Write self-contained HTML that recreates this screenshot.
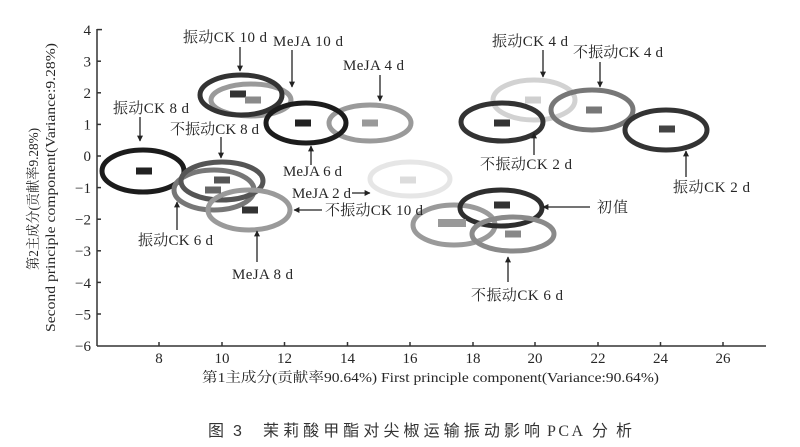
<!DOCTYPE html>
<html><head><meta charset="utf-8"><style>
html,body{margin:0;padding:0;background:#fff;}
svg{display:block;}
text{font-family:"Liberation Serif","Noto Serif CJK SC",serif;fill:#262626;}
.cap{font-family:"Liberation Sans","Noto Sans CJK SC",sans-serif;fill:#333;}
</style></head><body>
<svg width="800" height="447" viewBox="0 0 800 447" xmlns="http://www.w3.org/2000/svg">
<defs>
<marker id="ah" viewBox="0 0 10 10" refX="9" refY="5" markerWidth="6" markerHeight="7" orient="auto" markerUnits="userSpaceOnUse">
<path d="M0,0 L10,5 L0,10 z" fill="#222"/>
</marker>
</defs>
<rect width="800" height="447" fill="#fff"/>

<!-- axes -->
<g stroke="#333" stroke-width="1.5" fill="none">
<line x1="97" y1="29" x2="97" y2="346"/>
<line x1="97" y1="346" x2="766" y2="346"/>
<line x1="97" y1="29.6" x2="102" y2="29.6"/>
<line x1="97" y1="61.2" x2="101" y2="61.2"/>
<line x1="97" y1="92.8" x2="101" y2="92.8"/>
<line x1="97" y1="124.4" x2="101" y2="124.4"/>
<line x1="97" y1="156" x2="101" y2="156"/>
<line x1="97" y1="187.6" x2="101" y2="187.6"/>
<line x1="97" y1="219.2" x2="101" y2="219.2"/>
<line x1="97" y1="250.8" x2="101" y2="250.8"/>
<line x1="97" y1="282.4" x2="101" y2="282.4"/>
<line x1="97" y1="314" x2="101" y2="314"/>
<line x1="159" y1="346" x2="159" y2="342"/>
<line x1="222" y1="346" x2="222" y2="342"/>
<line x1="284.5" y1="346" x2="284.5" y2="342"/>
<line x1="347.5" y1="346" x2="347.5" y2="342"/>
<line x1="410" y1="346" x2="410" y2="342"/>
<line x1="473" y1="346" x2="473" y2="342"/>
<line x1="535" y1="346" x2="535" y2="342"/>
<line x1="598" y1="346" x2="598" y2="342"/>
<line x1="660.5" y1="346" x2="660.5" y2="342"/>
<line x1="723" y1="346" x2="723" y2="342"/>
</g>

<g font-size="15" text-anchor="end">
<text x="91" y="35">4</text>
<text x="91" y="66.5">3</text>
<text x="91" y="98">2</text>
<text x="91" y="129.5">1</text>
<text x="91" y="161">0</text>
<text x="91" y="193">−1</text>
<text x="91" y="224.5">−2</text>
<text x="91" y="256">−3</text>
<text x="91" y="288">−4</text>
<text x="91" y="319.5">−5</text>
<text x="91" y="351">−6</text>
</g>
<g font-size="15" text-anchor="middle">
<text x="159" y="363">8</text>
<text x="222" y="363">10</text>
<text x="284.5" y="363">12</text>
<text x="347.5" y="363">14</text>
<text x="410" y="363">16</text>
<text x="473" y="363">18</text>
<text x="535" y="363">20</text>
<text x="598" y="363">22</text>
<text x="660.5" y="363">24</text>
<text x="723" y="363">26</text>
</g>

<text x="202" y="382" font-size="14" textLength="457" lengthAdjust="spacingAndGlyphs">第1主成分(贡献率90.64%) First principle component(Variance:90.64%)</text>
<text transform="translate(38,270) rotate(-90)" font-size="14" textLength="142" lengthAdjust="spacingAndGlyphs">第2主成分(贡献率9.28%)</text>
<text transform="translate(55,332) rotate(-90)" font-size="14" textLength="289" lengthAdjust="spacingAndGlyphs">Second principle component(Variance:9.28%)</text>

<g fill="none" stroke-width="5">
<ellipse cx="410" cy="179" rx="40" ry="17" stroke="#e6e6e6"/>
<ellipse cx="534" cy="100" rx="41" ry="20" stroke="#d2d2d2"/>
<ellipse cx="251" cy="100" rx="40" ry="16" stroke="#9a9a9a"/>
<ellipse cx="241" cy="95" rx="41" ry="20" stroke="#333"/>
<ellipse cx="370" cy="123" rx="41" ry="18" stroke="#9a9a9a"/>
<ellipse cx="306" cy="123" rx="40" ry="20" stroke="#1c1c1c"/>
<ellipse cx="143" cy="171" rx="41" ry="21" stroke="#1c1c1c"/>
<ellipse cx="214" cy="190" rx="40" ry="20" stroke="#777"/>
<ellipse cx="222" cy="181" rx="41" ry="19" stroke="#555"/>
<ellipse cx="249" cy="210" rx="41" ry="20" stroke="#9a9a9a"/>
<ellipse cx="454" cy="225" rx="41" ry="20" stroke="#9a9a9a"/>
<ellipse cx="501" cy="208" rx="41" ry="18" stroke="#2e2e2e"/>
<ellipse cx="513" cy="234" rx="41" ry="17" stroke="#8a8a8a"/>
<ellipse cx="592" cy="110" rx="41" ry="20" stroke="#777"/>
<ellipse cx="502" cy="122" rx="41" ry="19" stroke="#333"/>
<ellipse cx="666" cy="130" rx="41" ry="20" stroke="#333"/>
</g>

<g>
<rect x="230" y="90.5" width="16" height="7" fill="#333"/>
<rect x="245" y="96.5" width="16" height="7" fill="#8a8a8a"/>
<rect x="295" y="119.5" width="16" height="7" fill="#222"/>
<rect x="362" y="119.5" width="16" height="7" fill="#999"/>
<rect x="136" y="167.5" width="16" height="7" fill="#222"/>
<rect x="214" y="176.5" width="16" height="7" fill="#555"/>
<rect x="205" y="186.5" width="16" height="7" fill="#666"/>
<rect x="242" y="206.5" width="16" height="7" fill="#333"/>
<rect x="400" y="176.5" width="16" height="7" fill="#dcdcdc"/>
<rect x="438" y="219" width="28" height="8" fill="#999"/>
<rect x="494" y="201.5" width="16" height="7" fill="#333"/>
<rect x="505" y="230.5" width="16" height="7" fill="#888"/>
<rect x="525" y="96.5" width="16" height="7" fill="#cfcfcf"/>
<rect x="586" y="106.5" width="16" height="7" fill="#777"/>
<rect x="494" y="119.5" width="16" height="7" fill="#333"/>
<rect x="659" y="125.5" width="16" height="7" fill="#444"/>
</g>

<g stroke="#222" stroke-width="1.3" marker-end="url(#ah)">
<line x1="240" y1="47" x2="240" y2="71"/>
<line x1="292" y1="50" x2="292" y2="87"/>
<line x1="380" y1="75" x2="380" y2="101"/>
<line x1="140" y1="117" x2="140" y2="141"/>
<line x1="221" y1="137" x2="221" y2="158"/>
<line x1="311" y1="165" x2="311" y2="146"/>
<line x1="543" y1="50" x2="543" y2="77"/>
<line x1="600" y1="62" x2="600" y2="87"/>
<line x1="534" y1="155" x2="534" y2="133"/>
<line x1="686" y1="177" x2="686" y2="151"/>
<line x1="177" y1="230" x2="177" y2="202"/>
<line x1="257" y1="262" x2="257" y2="231"/>
<line x1="322" y1="210" x2="294" y2="210"/>
<line x1="352" y1="193" x2="370" y2="193"/>
<line x1="590" y1="207" x2="543" y2="207"/>
<line x1="508" y1="282" x2="508" y2="257"/>
</g>

<g font-size="15" lengthAdjust="spacingAndGlyphs">
<text x="183" y="42" textLength="84">振动CK 10 d</text>
<text x="273" y="46" textLength="70">MeJA 10 d</text>
<text x="343" y="70" textLength="61">MeJA 4 d</text>
<text x="113" y="113" textLength="76">振动CK 8 d</text>
<text x="170" y="134" textLength="89">不振动CK 8 d</text>
<text x="283" y="176" textLength="59">MeJA 6 d</text>
<text x="292" y="198" textLength="59">MeJA 2 d</text>
<text x="325" y="215" textLength="98">不振动CK 10 d</text>
<text x="138" y="245" textLength="75">振动CK 6 d</text>
<text x="232" y="279" textLength="61">MeJA 8 d</text>
<text x="492" y="46" textLength="76">振动CK 4 d</text>
<text x="573" y="57" textLength="90">不振动CK 4 d</text>
<text x="480" y="169" textLength="92">不振动CK 2 d</text>
<text x="673" y="192" textLength="77">振动CK 2 d</text>
<text x="597" y="212" textLength="31">初值</text>
<text x="471" y="300" textLength="92">不振动CK 6 d</text>
</g>

<g font-size="16" lengthAdjust="spacingAndGlyphs">
<text class="cap" x="208" y="436" textLength="16">图</text>
<text class="cap" x="233" y="436">3</text>
<text class="cap" x="263" y="436" textLength="277">茉莉酸甲酯对尖椒运输振动影响</text>
<text class="cap" x="547" y="436" textLength="36" style="font-family:'Liberation Serif',serif">PCA</text>
<text class="cap" x="592" y="436" textLength="40">分析</text>
</g>
</svg>
</body></html>
